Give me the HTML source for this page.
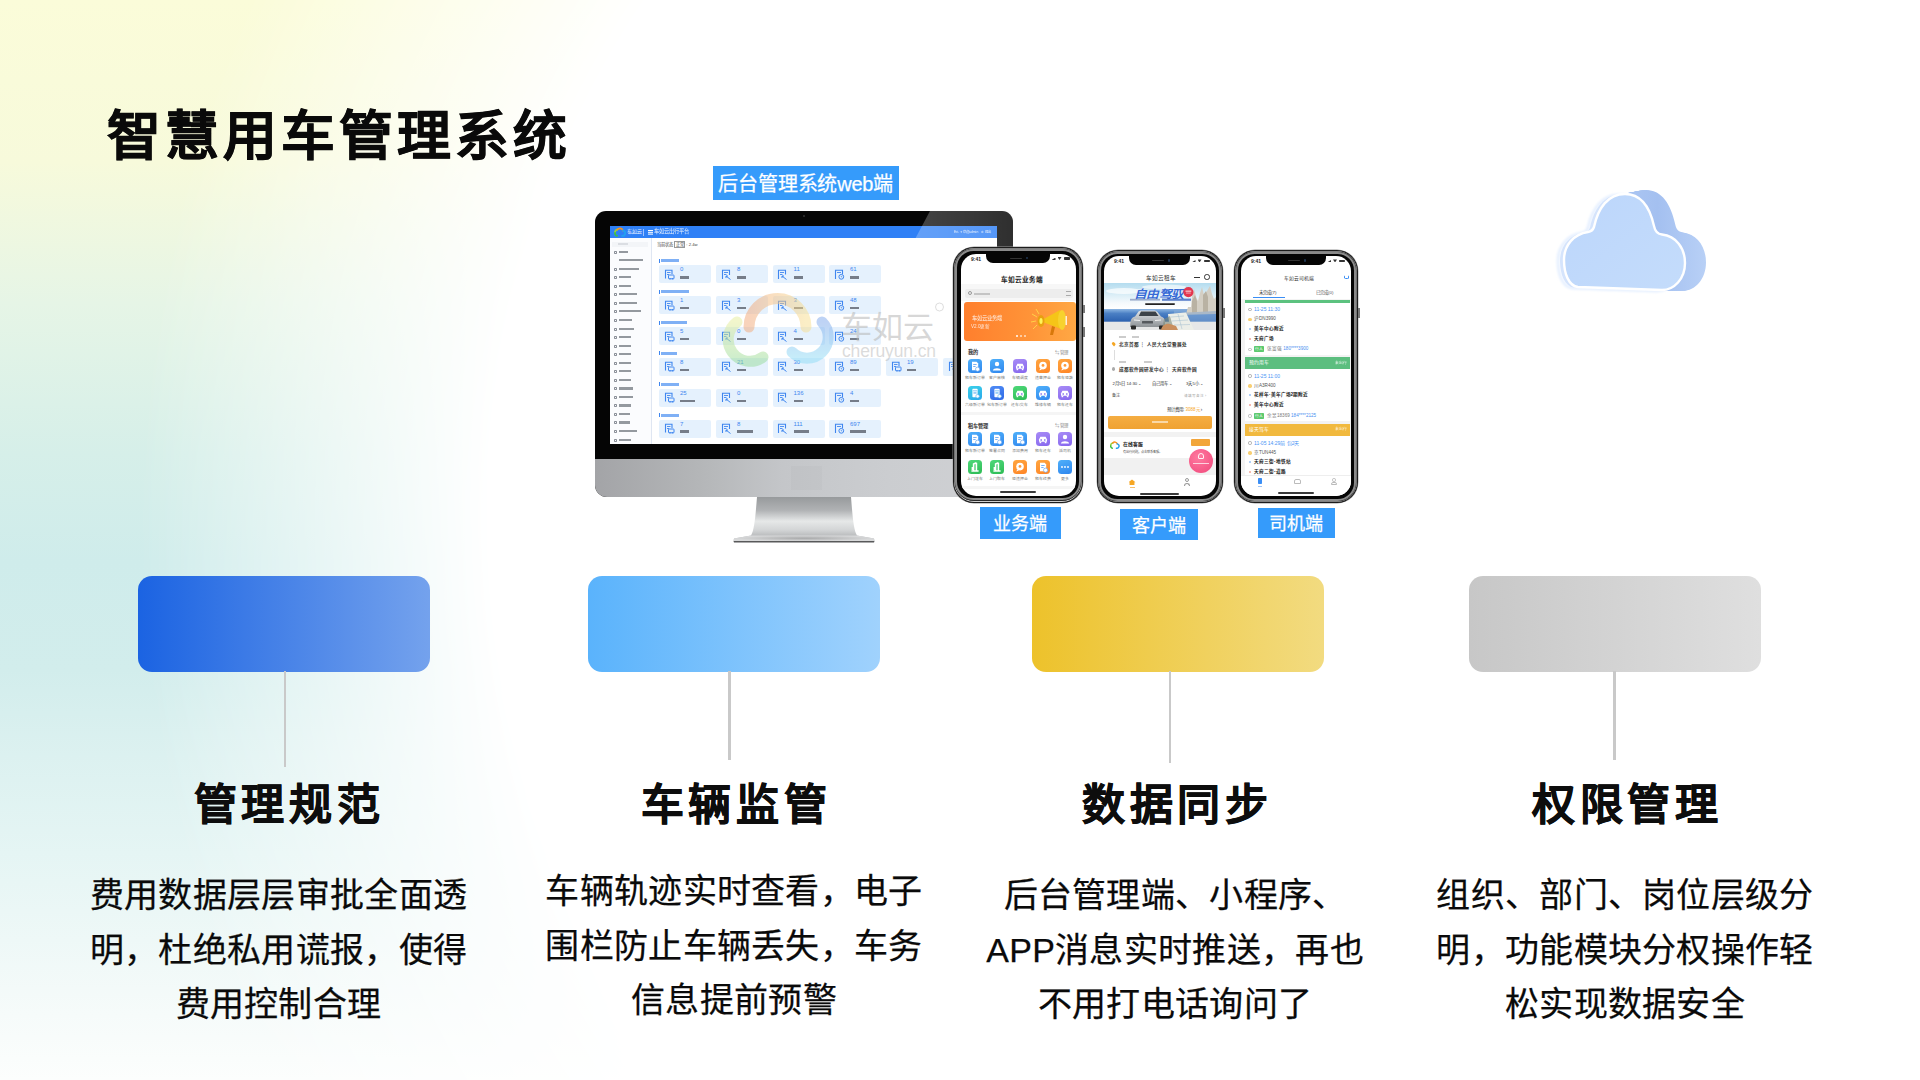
<!DOCTYPE html>
<html lang="zh-CN"><head><meta charset="utf-8"><style>
*{margin:0;padding:0;box-sizing:border-box}
html,body{width:1920px;height:1080px;overflow:hidden}
body{position:relative;font-family:"Liberation Sans",sans-serif;background:#fff;color:#111}
.a{position:absolute}
#bgc{position:absolute;left:0;top:0;width:1920px;height:1080px;
background:linear-gradient(180deg,#fbfcd9 0%,#f7fadb 15%,#e6f5e6 28%,#d6efe9 42%,#cfeceb 52%,#d2edec 62%,#dcf1f0 70%,#e5f5f4 79%,#eef8f7 87%,#f6fbfa 94%,#fcfefd 100%);
-webkit-mask-image:radial-gradient(circle at 1420px 520px, rgba(0,0,0,0) 0px, rgba(0,0,0,0) 930px, rgba(0,0,0,1) 1280px);
mask-image:radial-gradient(circle at 1420px 520px, rgba(0,0,0,0) 0px, rgba(0,0,0,0) 930px, rgba(0,0,0,1) 1280px);}
#title{left:107px;top:98.5px;font-size:53.8px;font-weight:900;letter-spacing:4px;white-space:nowrap;color:#0a0a0a;line-height:1.4;-webkit-text-stroke:.6px #0a0a0a}
.box{position:absolute;top:576px;width:292px;height:95.5px;border-radius:14px}
.vline{position:absolute;top:671px;width:2px;background:#c9c9c9}
.ct{position:absolute;width:400px;text-align:center;font-size:43px;font-weight:700;line-height:60px;top:775px;color:#0d0d0d;white-space:nowrap;letter-spacing:4.6px;-webkit-text-stroke:.6px #0d0d0d}
.cb{position:absolute;width:420px;text-align:center;font-size:34px;line-height:54.5px;top:868px;color:#0a0a0a;white-space:nowrap;letter-spacing:.3px;-webkit-text-stroke:.25px #0a0a0a}
.lab{position:absolute;background:#359bfb;color:#fff;text-align:center;white-space:nowrap;font-weight:500;-webkit-text-stroke:.25px #fff}
/* monitor */
#mon{left:595px;top:211px;width:418px;height:286px;border-radius:11px 11px 12px 12px;overflow:hidden;background:#050505}
#chin{left:0;top:248px;width:418px;height:38px;background:linear-gradient(90deg,#a3a4a7 0%,#b4b6b8 25%,#c4c6c9 45%,#cbcdd0 70%,#d0d1d4 100%)}
#scr{left:15px;top:15px;width:387px;height:218px;background:#fff;overflow:hidden}
#hdr{left:0;top:0;width:387px;height:12px;background:#2f80f6}
#side{left:0;top:12px;width:42px;height:206px;background:#fbfcfe;border-right:1.2px solid #dfe6f2}
.mi{position:absolute;left:3px;height:2.4px;background:#7a7f87;opacity:.8}
.mic{position:absolute;left:3.5px;width:3px;height:3px;border:0.7px solid #8a8f98;border-radius:.8px}
.sl{position:absolute;height:3px;background:#7fb0f5}
.card{position:absolute;width:52px;height:18px;background:#e5f1fd;border-radius:2px}
.card svg{position:absolute;left:4.5px;top:3.5px}
.card b{position:absolute;left:21px;top:1px;font-size:6px;font-weight:400;color:#3f86ef;line-height:6px}
.card u{position:absolute;left:21px;top:10.8px;width:10px;height:2.6px;background:#5a606b;opacity:.8}
#glare{left:0;top:0;width:418px;height:60px;background:linear-gradient(90deg,rgba(255,255,255,.26) 75%,rgba(255,255,255,.17));clip-path:polygon(335px 0,418px 0,418px 60px,303px 60px)}
#stand{left:733px;top:497px;width:142px;height:46px}
/* phones */
.ph{position:absolute;border-radius:21px;background:#1c1c1c;box-shadow:0 0 0 .4px #9a9a9a}
.ph .r1{position:absolute;border-radius:20px;border:.8px solid #d0d0d0;left:.9px;top:.9px;right:.9px;bottom:.9px}
.ph .r2{position:absolute;border-radius:18.5px;border:2.4px solid #8a8a8a;background:#050505;left:2.4px;top:2.4px;right:2.4px;bottom:2.4px;box-shadow:0 0 0 .6px #333}
.ph .sc{position:absolute;background:#fff;border-radius:14px;overflow:hidden}
.notch{position:absolute;top:0;height:9px;background:#050505;border-radius:0 0 7px 7px}
.t9{position:absolute;font-size:5px;font-weight:700;color:#222;top:2px}
.ic{position:absolute;width:14px;height:14px;border-radius:3.5px}
.il{position:absolute;height:2.2px;background:#9a9a9a;opacity:.8}
.pl{position:absolute;height:2.6px;background:#333}
</style></head><body>
<div id="bgc"></div>
<div id="title" class="a">智慧用车管理系统</div>
<div class="lab" style="left:713px;top:166.3px;width:185.5px;height:33.5px;font-size:20px;line-height:36px;letter-spacing:-.2px">后台管理系统web端</div>
<div id="mon" class="a">
<div id="scr" class="a">
<div id="hdr" class="a"><svg class="a" style="left:1.5px;top:.5px" width="14" height="11" viewBox="0 0 14 11"><g fill="none" stroke-width="1.8" stroke-linecap="round"><path d="M3,6 A3,3 0 0 1 5.5,2.5" stroke="#9bd13a"/><path d="M5.5,2.5 A3.2,3.2 0 0 1 11,3.5" stroke="#f7921e"/><path d="M11,3.5 A2.6,2.6 0 0 1 10,8.8" stroke="#21a0f0"/><path d="M3,6 A2.4,2.4 0 0 0 5,8.8" stroke="#3cc04a"/></g></svg><div class="a" style="left:17px;top:1.5px;font-size:5px;line-height:6px;color:#e8f1ff;white-space:nowrap">车如云</div><div class="a" style="left:17.5px;top:7.3px;width:11px;height:1px;background:#bcd6ff;opacity:.7"></div><div class="a" style="left:32.5px;top:2.5px;width:.5px;height:7px;background:#9cc2ff"></div><div class="a" style="left:37.5px;top:4px;width:5px;height:.9px;background:#fff;box-shadow:0 1.8px 0 #fff,0 3.6px 0 #fff"></div><div class="a" style="left:44px;top:2.2px;font-size:5.3px;line-height:7px;color:#fff;white-space:nowrap;opacity:.92">车如云出行平台</div><div class="a" style="left:344px;top:4px;font-size:3.4px;line-height:4px;color:#fff;white-space:nowrap;opacity:.85">Eri. ✦欢迎admin　⚙ 退出</div></div>
<div id="side" class="a"><div class="mi" style="left:2px;top:3.5px;width:36px;height:5px;background:#f1f3f6"></div><div class="mi" style="left:8px;top:4.5px;width:10px;background:#d5d8dd"></div><div class="mic" style="top:12.5px"></div><div class="mi" style="left:9px;top:12.5px;width:9px"></div><div class="mi" style="left:9px;top:21.0px;width:24px"></div><div class="mic" style="top:29.5px"></div><div class="mi" style="left:9px;top:29.5px;width:20px"></div><div class="mic" style="top:38.0px"></div><div class="mi" style="left:9px;top:38.0px;width:12px"></div><div class="mic" style="top:46.5px"></div><div class="mi" style="left:9px;top:46.5px;width:12px"></div><div class="mic" style="top:55.0px"></div><div class="mi" style="left:9px;top:55.0px;width:18px"></div><div class="mic" style="top:63.5px"></div><div class="mi" style="left:9px;top:63.5px;width:18px"></div><div class="mic" style="top:72.1px"></div><div class="mi" style="left:9px;top:72.1px;width:22px"></div><div class="mic" style="top:80.5px"></div><div class="mi" style="left:9px;top:80.5px;width:13px"></div><div class="mic" style="top:89.5px"></div><div class="mi" style="left:9px;top:89.5px;width:15px"></div><div class="mic" style="top:98.1px"></div><div class="mi" style="left:9px;top:98.1px;width:12px"></div><div class="mic" style="top:106.5px"></div><div class="mi" style="left:9px;top:106.5px;width:12px"></div><div class="mic" style="top:115.1px"></div><div class="mi" style="left:9px;top:115.1px;width:12px"></div><div class="mic" style="top:123.5px"></div><div class="mi" style="left:9px;top:123.5px;width:12px"></div><div class="mic" style="top:132.1px"></div><div class="mi" style="left:9px;top:132.1px;width:12px"></div><div class="mic" style="top:140.5px"></div><div class="mi" style="left:9px;top:140.5px;width:12px"></div><div class="mic" style="top:149.2px"></div><div class="mi" style="left:9px;top:149.2px;width:14px"></div><div class="mic" style="top:157.5px"></div><div class="mi" style="left:9px;top:157.5px;width:14px"></div><div class="mic" style="top:166.2px"></div><div class="mi" style="left:9px;top:166.2px;width:12px"></div><div class="mic" style="top:174.5px"></div><div class="mi" style="left:9px;top:174.5px;width:11px"></div><div class="mic" style="top:183.3px"></div><div class="mi" style="left:9px;top:183.3px;width:11px"></div><div class="mic" style="top:191.8px"></div><div class="mi" style="left:9px;top:191.8px;width:18px"></div><div class="mic" style="top:200.5px"></div><div class="mi" style="left:9px;top:200.5px;width:12px"></div></div>
<div class="a" style="left:47px;top:15.8px;font-size:4.2px;line-height:5px;color:#444;white-space:nowrap">当前状态 <span style="border:.4px solid #999;padding:0 .5px">正常</span> : 2.4w</div>
<div class="a" style="left:48.6px;top:32.7px;width:1px;height:4px;background:#3f86ef"></div><div class="sl" style="left:51px;top:33.2px;width:18px"></div><div class="card" style="left:49.0px;top:39.2px"><svg width="11" height="11" viewBox="0 0 11 11"><path d="M1.5,9.5 V1.2 H8 V5" fill="none" stroke="#3f86ef" stroke-width="1.1"/><path d="M3,3.5 H6.5 M3,5.5 H5" stroke="#3f86ef" stroke-width=".9"/><rect x="4.5" y="6" width="5.5" height="3.8" rx=".6" fill="none" stroke="#3f86ef" stroke-width="1"/><circle cx="6" cy="9.8" r=".7" fill="#3f86ef"/><circle cx="8.7" cy="9.8" r=".7" fill="#3f86ef"/></svg><b>0</b><u style="width:9px"></u></div><div class="card" style="left:106.0px;top:39.2px"><svg width="11" height="11" viewBox="0 0 11 11"><path d="M1.5,10 V1.2 H8.5 V6" fill="none" stroke="#3f86ef" stroke-width="1.1"/><path d="M3,3.5 H7 M3,5.5 H5.5" stroke="#3f86ef" stroke-width=".9"/><path d="M5,7 L9.5,10.5 M5,7 V9 M5,7 H7" fill="none" stroke="#3f86ef" stroke-width="1"/></svg><b>8</b><u style="width:9px"></u></div><div class="card" style="left:162.5px;top:39.2px"><svg width="11" height="11" viewBox="0 0 11 11"><path d="M1.5,10 V1.2 H8.5 V5.5" fill="none" stroke="#3f86ef" stroke-width="1.1"/><path d="M3,3.5 H7 M3,5.5 H5.5" stroke="#3f86ef" stroke-width=".9"/><path d="M5,7 L9.5,10.5 M5,7 V9 M5,7 H7" fill="none" stroke="#3f86ef" stroke-width="1"/></svg><b>11</b><u style="width:9px"></u></div><div class="card" style="left:219.0px;top:39.2px"><svg width="11" height="11" viewBox="0 0 11 11"><path d="M1.5,10 V1.2 H8.5 V5" fill="none" stroke="#3f86ef" stroke-width="1.1"/><path d="M3,3.5 H7" stroke="#3f86ef" stroke-width=".9"/><circle cx="7.3" cy="7.8" r="2.4" fill="none" stroke="#3f86ef" stroke-width="1"/><path d="M7.3,6.8 V8 H8.3" fill="none" stroke="#3f86ef" stroke-width=".7"/></svg><b>61</b><u style="width:9px"></u></div><div class="a" style="left:48.6px;top:63.6px;width:1px;height:4px;background:#3f86ef"></div><div class="sl" style="left:51px;top:64.1px;width:28px"></div><div class="card" style="left:49.0px;top:70.1px"><svg width="11" height="11" viewBox="0 0 11 11"><path d="M1.5,9.5 V1.2 H8 V5" fill="none" stroke="#3f86ef" stroke-width="1.1"/><path d="M3,3.5 H6.5 M3,5.5 H5" stroke="#3f86ef" stroke-width=".9"/><rect x="4.5" y="6" width="5.5" height="3.8" rx=".6" fill="none" stroke="#3f86ef" stroke-width="1"/><circle cx="6" cy="9.8" r=".7" fill="#3f86ef"/><circle cx="8.7" cy="9.8" r=".7" fill="#3f86ef"/></svg><b>1</b><u style="width:9px"></u></div><div class="card" style="left:106.0px;top:70.1px"><svg width="11" height="11" viewBox="0 0 11 11"><path d="M1.5,10 V1.2 H8.5 V6" fill="none" stroke="#3f86ef" stroke-width="1.1"/><path d="M3,3.5 H7 M3,5.5 H5.5" stroke="#3f86ef" stroke-width=".9"/><path d="M5,7 L9.5,10.5 M5,7 V9 M5,7 H7" fill="none" stroke="#3f86ef" stroke-width="1"/></svg><b>3</b><u style="width:9px"></u></div><div class="card" style="left:162.5px;top:70.1px"><svg width="11" height="11" viewBox="0 0 11 11"><path d="M1.5,10 V1.2 H8.5 V5.5" fill="none" stroke="#3f86ef" stroke-width="1.1"/><path d="M3,3.5 H7 M3,5.5 H5.5" stroke="#3f86ef" stroke-width=".9"/><path d="M5,7 L9.5,10.5 M5,7 V9 M5,7 H7" fill="none" stroke="#3f86ef" stroke-width="1"/></svg><b>3</b><u style="width:9px"></u></div><div class="card" style="left:219.0px;top:70.1px"><svg width="11" height="11" viewBox="0 0 11 11"><path d="M1.5,10 V1.2 H8.5 V5" fill="none" stroke="#3f86ef" stroke-width="1.1"/><path d="M3,3.5 H7" stroke="#3f86ef" stroke-width=".9"/><circle cx="7.3" cy="7.8" r="2.4" fill="none" stroke="#3f86ef" stroke-width="1"/><path d="M7.3,6.8 V8 H8.3" fill="none" stroke="#3f86ef" stroke-width=".7"/></svg><b>48</b><u style="width:9px"></u></div><div class="a" style="left:48.6px;top:94.5px;width:1px;height:4px;background:#3f86ef"></div><div class="sl" style="left:51px;top:95.0px;width:26px"></div><div class="card" style="left:49.0px;top:101.0px"><svg width="11" height="11" viewBox="0 0 11 11"><path d="M1.5,9.5 V1.2 H8 V5" fill="none" stroke="#3f86ef" stroke-width="1.1"/><path d="M3,3.5 H6.5 M3,5.5 H5" stroke="#3f86ef" stroke-width=".9"/><rect x="4.5" y="6" width="5.5" height="3.8" rx=".6" fill="none" stroke="#3f86ef" stroke-width="1"/><circle cx="6" cy="9.8" r=".7" fill="#3f86ef"/><circle cx="8.7" cy="9.8" r=".7" fill="#3f86ef"/></svg><b>5</b><u style="width:9px"></u></div><div class="card" style="left:106.0px;top:101.0px"><svg width="11" height="11" viewBox="0 0 11 11"><path d="M1.5,10 V1.2 H8.5 V6" fill="none" stroke="#3f86ef" stroke-width="1.1"/><path d="M3,3.5 H7 M3,5.5 H5.5" stroke="#3f86ef" stroke-width=".9"/><path d="M5,7 L9.5,10.5 M5,7 V9 M5,7 H7" fill="none" stroke="#3f86ef" stroke-width="1"/></svg><b>0</b><u style="width:9px"></u></div><div class="card" style="left:162.5px;top:101.0px"><svg width="11" height="11" viewBox="0 0 11 11"><path d="M1.5,10 V1.2 H8.5 V5.5" fill="none" stroke="#3f86ef" stroke-width="1.1"/><path d="M3,3.5 H7 M3,5.5 H5.5" stroke="#3f86ef" stroke-width=".9"/><path d="M5,7 L9.5,10.5 M5,7 V9 M5,7 H7" fill="none" stroke="#3f86ef" stroke-width="1"/></svg><b>4</b><u style="width:9px"></u></div><div class="card" style="left:219.0px;top:101.0px"><svg width="11" height="11" viewBox="0 0 11 11"><path d="M1.5,10 V1.2 H8.5 V5" fill="none" stroke="#3f86ef" stroke-width="1.1"/><path d="M3,3.5 H7" stroke="#3f86ef" stroke-width=".9"/><circle cx="7.3" cy="7.8" r="2.4" fill="none" stroke="#3f86ef" stroke-width="1"/><path d="M7.3,6.8 V8 H8.3" fill="none" stroke="#3f86ef" stroke-width=".7"/></svg><b>24</b><u style="width:9px"></u></div><div class="a" style="left:48.6px;top:125.4px;width:1px;height:4px;background:#3f86ef"></div><div class="sl" style="left:51px;top:125.9px;width:16px"></div><div class="card" style="left:49.0px;top:131.9px"><svg width="11" height="11" viewBox="0 0 11 11"><path d="M1.5,9.5 V1.2 H8 V5" fill="none" stroke="#3f86ef" stroke-width="1.1"/><path d="M3,3.5 H6.5 M3,5.5 H5" stroke="#3f86ef" stroke-width=".9"/><rect x="4.5" y="6" width="5.5" height="3.8" rx=".6" fill="none" stroke="#3f86ef" stroke-width="1"/><circle cx="6" cy="9.8" r=".7" fill="#3f86ef"/><circle cx="8.7" cy="9.8" r=".7" fill="#3f86ef"/></svg><b>8</b><u style="width:9px"></u></div><div class="card" style="left:106.0px;top:131.9px"><svg width="11" height="11" viewBox="0 0 11 11"><path d="M1.5,10 V1.2 H8.5 V6" fill="none" stroke="#3f86ef" stroke-width="1.1"/><path d="M3,3.5 H7 M3,5.5 H5.5" stroke="#3f86ef" stroke-width=".9"/><path d="M5,7 L9.5,10.5 M5,7 V9 M5,7 H7" fill="none" stroke="#3f86ef" stroke-width="1"/></svg><b>21</b><u style="width:9px"></u></div><div class="card" style="left:162.5px;top:131.9px"><svg width="11" height="11" viewBox="0 0 11 11"><path d="M1.5,10 V1.2 H8.5 V5.5" fill="none" stroke="#3f86ef" stroke-width="1.1"/><path d="M3,3.5 H7 M3,5.5 H5.5" stroke="#3f86ef" stroke-width=".9"/><path d="M5,7 L9.5,10.5 M5,7 V9 M5,7 H7" fill="none" stroke="#3f86ef" stroke-width="1"/></svg><b>30</b><u style="width:9px"></u></div><div class="card" style="left:219.0px;top:131.9px"><svg width="11" height="11" viewBox="0 0 11 11"><path d="M1.5,10 V1.2 H8.5 V5" fill="none" stroke="#3f86ef" stroke-width="1.1"/><path d="M3,3.5 H7" stroke="#3f86ef" stroke-width=".9"/><circle cx="7.3" cy="7.8" r="2.4" fill="none" stroke="#3f86ef" stroke-width="1"/><path d="M7.3,6.8 V8 H8.3" fill="none" stroke="#3f86ef" stroke-width=".7"/></svg><b>89</b><u style="width:9px"></u></div><div class="card" style="left:276.0px;top:131.9px"><svg width="11" height="11" viewBox="0 0 11 11"><path d="M1.5,9.5 V1.2 H8 V5" fill="none" stroke="#3f86ef" stroke-width="1.1"/><path d="M3,3.5 H6.5 M3,5.5 H5" stroke="#3f86ef" stroke-width=".9"/><rect x="4.5" y="6" width="5.5" height="3.8" rx=".6" fill="none" stroke="#3f86ef" stroke-width="1"/><circle cx="6" cy="9.8" r=".7" fill="#3f86ef"/><circle cx="8.7" cy="9.8" r=".7" fill="#3f86ef"/></svg><b>19</b><u style="width:9px"></u></div><div class="card" style="left:333.0px;top:131.9px"><svg width="11" height="11" viewBox="0 0 11 11"><path d="M1.5,10 V1.2 H8.5 V6" fill="none" stroke="#3f86ef" stroke-width="1.1"/><path d="M3,3.5 H7 M3,5.5 H5.5" stroke="#3f86ef" stroke-width=".9"/><path d="M5,7 L9.5,10.5 M5,7 V9 M5,7 H7" fill="none" stroke="#3f86ef" stroke-width="1"/></svg><b>6</b><u style="width:9px"></u></div><div class="a" style="left:48.6px;top:156.3px;width:1px;height:4px;background:#3f86ef"></div><div class="sl" style="left:51px;top:156.8px;width:18px"></div><div class="card" style="left:49.0px;top:162.8px"><svg width="11" height="11" viewBox="0 0 11 11"><path d="M1.5,9.5 V1.2 H8 V5" fill="none" stroke="#3f86ef" stroke-width="1.1"/><path d="M3,3.5 H6.5 M3,5.5 H5" stroke="#3f86ef" stroke-width=".9"/><rect x="4.5" y="6" width="5.5" height="3.8" rx=".6" fill="none" stroke="#3f86ef" stroke-width="1"/><circle cx="6" cy="9.8" r=".7" fill="#3f86ef"/><circle cx="8.7" cy="9.8" r=".7" fill="#3f86ef"/></svg><b>25</b><u style="width:15px"></u></div><div class="card" style="left:106.0px;top:162.8px"><svg width="11" height="11" viewBox="0 0 11 11"><path d="M1.5,10 V1.2 H8.5 V6" fill="none" stroke="#3f86ef" stroke-width="1.1"/><path d="M3,3.5 H7 M3,5.5 H5.5" stroke="#3f86ef" stroke-width=".9"/><path d="M5,7 L9.5,10.5 M5,7 V9 M5,7 H7" fill="none" stroke="#3f86ef" stroke-width="1"/></svg><b>0</b><u style="width:9px"></u></div><div class="card" style="left:162.5px;top:162.8px"><svg width="11" height="11" viewBox="0 0 11 11"><path d="M1.5,10 V1.2 H8.5 V5.5" fill="none" stroke="#3f86ef" stroke-width="1.1"/><path d="M3,3.5 H7 M3,5.5 H5.5" stroke="#3f86ef" stroke-width=".9"/><path d="M5,7 L9.5,10.5 M5,7 V9 M5,7 H7" fill="none" stroke="#3f86ef" stroke-width="1"/></svg><b>136</b><u style="width:9px"></u></div><div class="card" style="left:219.0px;top:162.8px"><svg width="11" height="11" viewBox="0 0 11 11"><path d="M1.5,10 V1.2 H8.5 V5" fill="none" stroke="#3f86ef" stroke-width="1.1"/><path d="M3,3.5 H7" stroke="#3f86ef" stroke-width=".9"/><circle cx="7.3" cy="7.8" r="2.4" fill="none" stroke="#3f86ef" stroke-width="1"/><path d="M7.3,6.8 V8 H8.3" fill="none" stroke="#3f86ef" stroke-width=".7"/></svg><b>4</b><u style="width:9px"></u></div><div class="a" style="left:48.6px;top:187.2px;width:1px;height:4px;background:#3f86ef"></div><div class="sl" style="left:51px;top:187.7px;width:18px"></div><div class="card" style="left:49.0px;top:193.7px"><svg width="11" height="11" viewBox="0 0 11 11"><path d="M1.5,9.5 V1.2 H8 V5" fill="none" stroke="#3f86ef" stroke-width="1.1"/><path d="M3,3.5 H6.5 M3,5.5 H5" stroke="#3f86ef" stroke-width=".9"/><rect x="4.5" y="6" width="5.5" height="3.8" rx=".6" fill="none" stroke="#3f86ef" stroke-width="1"/><circle cx="6" cy="9.8" r=".7" fill="#3f86ef"/><circle cx="8.7" cy="9.8" r=".7" fill="#3f86ef"/></svg><b>7</b><u style="width:9px"></u></div><div class="card" style="left:106.0px;top:193.7px"><svg width="11" height="11" viewBox="0 0 11 11"><path d="M1.5,10 V1.2 H8.5 V6" fill="none" stroke="#3f86ef" stroke-width="1.1"/><path d="M3,3.5 H7 M3,5.5 H5.5" stroke="#3f86ef" stroke-width=".9"/><path d="M5,7 L9.5,10.5 M5,7 V9 M5,7 H7" fill="none" stroke="#3f86ef" stroke-width="1"/></svg><b>8</b><u style="width:16px"></u></div><div class="card" style="left:162.5px;top:193.7px"><svg width="11" height="11" viewBox="0 0 11 11"><path d="M1.5,10 V1.2 H8.5 V5.5" fill="none" stroke="#3f86ef" stroke-width="1.1"/><path d="M3,3.5 H7 M3,5.5 H5.5" stroke="#3f86ef" stroke-width=".9"/><path d="M5,7 L9.5,10.5 M5,7 V9 M5,7 H7" fill="none" stroke="#3f86ef" stroke-width="1"/></svg><b>111</b><u style="width:15px"></u></div><div class="card" style="left:219.0px;top:193.7px"><svg width="11" height="11" viewBox="0 0 11 11"><path d="M1.5,10 V1.2 H8.5 V5" fill="none" stroke="#3f86ef" stroke-width="1.1"/><path d="M3,3.5 H7" stroke="#3f86ef" stroke-width=".9"/><circle cx="7.3" cy="7.8" r="2.4" fill="none" stroke="#3f86ef" stroke-width="1"/><path d="M7.3,6.8 V8 H8.3" fill="none" stroke="#3f86ef" stroke-width=".7"/></svg><b>697</b><u style="width:16px"></u></div>
<svg class="a" style="left:0;top:0" width="387" height="218" viewBox="610 226 387 218">
<g fill="none" stroke-linecap="round" opacity=".5">
<path d="M749,327 A28.5,28.5 0 0 1 806,327" stroke="url(#wgo)" stroke-width="11"/>
<path d="M737,322 A18,18 0 0 0 763,357" stroke="url(#wgg)" stroke-width="11"/>
<path d="M822,322 A17.5,17.5 0 0 1 792,352" stroke="url(#wgb)" stroke-width="11"/>
</g>
<defs>
<linearGradient id="wgo" x1="0" x2="1"><stop offset="0" stop-color="#f2a87a"/><stop offset="1" stop-color="#f8df8e"/></linearGradient>
<linearGradient id="wgg" x1="0" x2="0" y1="0" y2="1"><stop offset="0" stop-color="#e6ee9a"/><stop offset="1" stop-color="#98dc9a"/></linearGradient>
<linearGradient id="wgb" x1="0" x2="0" y1="0" y2="1"><stop offset="0" stop-color="#7fa8ec"/><stop offset="1" stop-color="#8fdcf6"/></linearGradient>
</defs>
<text x="841" y="337.5" font-size="31" fill="#b5b5b5" fill-opacity=".55" font-family="Liberation Sans, sans-serif">车如云</text>
<text x="842" y="357" font-size="17.5" fill="#bdbdbd" fill-opacity=".55" font-family="Liberation Sans, sans-serif" textLength="94">cheruyun.cn</text>
<circle cx="939.5" cy="307" r="4" fill="none" stroke="#d0d0d0" stroke-width=".7"/>
</svg>
</div>
<div id="glare" class="a"></div>
<div id="chin" class="a"><div class="a" style="left:196px;top:7px;width:31px;height:24px;background:rgba(0,0,0,.015)"></div></div>
<div class="a" style="left:208px;top:4px;width:2px;height:2px;border-radius:1px;background:#333"></div>
</div>
<svg id="stand" class="a" width="142" height="46" viewBox="733 497 142 46">
<defs><linearGradient id="sg" x1="0" x2="0" y1="0" y2="1">
<stop offset="0" stop-color="#979a9c"/><stop offset=".3" stop-color="#b0b2b4"/><stop offset=".55" stop-color="#e6e8e8"/><stop offset=".75" stop-color="#d3d5d6"/><stop offset=".9" stop-color="#b6b8ba"/><stop offset="1" stop-color="#c4c5c6"/></linearGradient>
<radialGradient id="bg2" cx=".5" cy=".5" r=".5"><stop offset="0" stop-color="#a8a9aa"/><stop offset="1" stop-color="#d8d9da"/></radialGradient></defs>
<path d="M757,497 L851,497 C852.5,515 853.5,530 857,535.5 L874,538.5 L874.5,541 L733.5,541 L734,538.5 L751,535.5 C754.5,530 755.5,515 757,497 Z" fill="url(#sg)"/>
<path d="M751,535.5 L857,535.5 L874,538.5 L874.5,541 L733.5,541 L734,538.5 Z" fill="url(#bg2)"/>
<path d="M733.5,541 L874.5,541 L874,542.5 L734,542.5 Z" fill="#58595a"/>
</svg>
<div class="ph" style="left:953px;top:247px;width:130px;height:255.5px"><div class="r1"></div><div class="r2"></div></div><div class="a" style="left:961px;top:254px;width:114.5px;height:241.5px;background:#fff;border-radius:15px;overflow:hidden"><div class="a" style="left:40.0px;top:20.0px;white-space:nowrap;font-size:6.6px;font-weight:700;color:#222;letter-spacing:-.1px">车如云业务端</div><div class="a" style="left:0.0px;top:30.0px;width:120.0px;height:17.0px;background:#f7f7f7"></div><div class="a" style="left:4.0px;top:35.0px;width:108.0px;height:9.0px;background:#ededed;border-radius:2px"></div><div class="a" style="left:6.5px;top:37.0px;width:4.0px;height:4.0px;border:.8px solid #999;border-radius:50%"></div><div class="a" style="left:13.0px;top:38.5px;width:16.0px;height:2.0px;background:#c4c4c4"></div><div class="a" style="left:105.0px;top:37.0px;width:5.0px;height:5.0px;border-top:.8px solid #aaa;border-bottom:.8px solid #aaa"></div><div class="a" style="left:3.0px;top:48.0px;width:111.5px;height:38.5px;background:linear-gradient(90deg,#ff7f2d,#ff9438 60%,#ffa844);border-radius:3px"></div><div class="a" style="left:10.5px;top:59.5px;white-space:nowrap;font-size:5.3px;color:#fff;opacity:.9">车如云业务端</div><div class="a" style="left:10.0px;top:68.5px;white-space:nowrap;font-size:4.6px;color:#fff;opacity:.8">V2.0更新</div><div class="a" style="left:54.5px;top:81.0px;width:2.0px;height:2.0px;background:#fff;border-radius:50%"></div><div class="a" style="left:58.5px;top:81.0px;width:2.0px;height:2.0px;background:#fff;border-radius:50%;opacity:.7"></div><div class="a" style="left:62.5px;top:81.0px;width:2.0px;height:2.0px;background:#fff;border-radius:50%;opacity:.7"></div><svg class="a" style="left:69px;top:50px" width="44" height="34" viewBox="0 0 44 34"><path d="M10,17 L30,6 L34,26 Z" fill="#f5c518"/><ellipse cx="32" cy="16" rx="4" ry="10" fill="#f7d22e"/><ellipse cx="11" cy="17" rx="3.5" ry="6" fill="#e8a010"/><ellipse cx="11" cy="17" rx="1.6" ry="3" fill="#fff35a"/><path d="M22,22 L20,31 L23,31 L25,23 Z" fill="#d8780a"/><rect x="35.5" y="12" width="1.5" height="9" fill="#fff" opacity=".8"/><g stroke="#ffe04a" stroke-width=".8"><line x1="2" y1="10" x2="7" y2="13"/><line x1="1" y1="18" x2="6" y2="17"/><line x1="3" y1="25" x2="7" y2="21"/><line x1="6" y1="5" x2="9" y2="10"/></g></svg><div class="a" style="left:6.5px;top:94.3px;white-space:nowrap;font-size:5.2px;font-weight:700;color:#333">我的</div><div class="a" style="left:94.0px;top:94.7px;white-space:nowrap;font-size:4.4px;color:#888">⇆ 管理</div><div class="a" style="left:6.5px;top:104.8px;width:14.0px;height:14.0px;background:linear-gradient(160deg,#4fb0fa,#2f86ee);border-radius:3.5px"></div><svg class="a" style="left:6.5px;top:104.8px" width="14" height="14" viewBox="0 0 14 14"><path d="M4,2.8 H8.6 L10.2,4.4 V11.2 H4 Z" fill="#fff"/><rect x="5.2" y="5" width="3.4" height=".9" fill="#6aa8f2"/><rect x="5.2" y="7" width="2.4" height=".9" fill="#6aa8f2"/><circle cx="9.6" cy="10.2" r="2.1" fill="#fff" stroke="#6aa8f2" stroke-width=".7"/></svg><div class="a" style="left:0.5px;top:121.0px;width:26px;text-align:center;font-size:3.9px;line-height:5px;color:#7a7a7a;white-space:nowrap">租车新订单</div><div class="a" style="left:29.0px;top:104.8px;width:14.0px;height:14.0px;background:linear-gradient(160deg,#4fb0fa,#2f86ee);border-radius:3.5px"></div><svg class="a" style="left:29.0px;top:104.8px" width="14" height="14" viewBox="0 0 14 14"><circle cx="7" cy="5" r="2.2" fill="#fff"/><path d="M2.8,11.4 C3.4,8.4 10.6,8.4 11.2,11.4 Z" fill="#fff"/></svg><div class="a" style="left:23.0px;top:121.0px;width:26px;text-align:center;font-size:3.9px;line-height:5px;color:#7a7a7a;white-space:nowrap">客户审核</div><div class="a" style="left:51.9px;top:104.8px;width:14.0px;height:14.0px;background:linear-gradient(160deg,#a88cf6,#8566ee);border-radius:3.5px"></div><svg class="a" style="left:51.9px;top:104.8px" width="14" height="14" viewBox="0 0 14 14"><path d="M3,9.8 V7.4 L4.4,4.8 H9.6 L11,7.4 V9.8 Z" fill="#fff"/><circle cx="5.2" cy="8" r=".9" fill="#9a8af0"/><circle cx="8.8" cy="8" r=".9" fill="#9a8af0"/><rect x="3.6" y="9.8" width="1.6" height="1.4" fill="#fff"/><rect x="8.8" y="9.8" width="1.6" height="1.4" fill="#fff"/></svg><div class="a" style="left:45.9px;top:121.0px;width:26px;text-align:center;font-size:3.9px;line-height:5px;color:#7a7a7a;white-space:nowrap">车辆调度</div><div class="a" style="left:74.6px;top:104.8px;width:14.0px;height:14.0px;background:linear-gradient(160deg,#ffa640,#ff8526);border-radius:3.5px"></div><svg class="a" style="left:74.6px;top:104.8px" width="14" height="14" viewBox="0 0 14 14"><circle cx="7" cy="6.6" r="3.8" fill="#fff"/><path d="M4.2,9.2 L3.4,11.4 L6,10.2 Z" fill="#fff"/><circle cx="7" cy="6.4" r="1.4" fill="#ff9a3a"/></svg><div class="a" style="left:68.6px;top:121.0px;width:26px;text-align:center;font-size:3.9px;line-height:5px;color:#7a7a7a;white-space:nowrap">违章押金</div><div class="a" style="left:97.0px;top:104.8px;width:14.0px;height:14.0px;background:linear-gradient(160deg,#ffa640,#ff8526);border-radius:3.5px"></div><svg class="a" style="left:97.0px;top:104.8px" width="14" height="14" viewBox="0 0 14 14"><circle cx="7" cy="6.6" r="3.8" fill="#fff"/><path d="M4.2,9.2 L3.4,11.4 L6,10.2 Z" fill="#fff"/><circle cx="7" cy="6.4" r="1.4" fill="#ff9a3a"/></svg><div class="a" style="left:91.0px;top:121.0px;width:26px;text-align:center;font-size:3.9px;line-height:5px;color:#7a7a7a;white-space:nowrap">租车退款</div><div class="a" style="left:6.5px;top:132.2px;width:14.0px;height:14.0px;background:linear-gradient(160deg,#3ad0ea,#2aa8ea);border-radius:3.5px"></div><svg class="a" style="left:6.5px;top:132.2px" width="14" height="14" viewBox="0 0 14 14"><rect x="4.4" y="2.8" width="5.2" height="8.4" rx=".6" fill="#fff"/><rect x="5.4" y="4.2" width="1.2" height="1.2" fill="#5aaef2"/><rect x="7.4" y="4.2" width="1.2" height="1.2" fill="#5aaef2"/><rect x="5.4" y="6.4" width="3.2" height="1.1" fill="#5aaef2"/><circle cx="9.6" cy="10.2" r="1.8" fill="#fff" stroke="#5aaef2" stroke-width=".6"/></svg><div class="a" style="left:0.5px;top:148.4px;width:26px;text-align:center;font-size:3.9px;line-height:5px;color:#7a7a7a;white-space:nowrap">六级新订单</div><div class="a" style="left:29.0px;top:132.2px;width:14.0px;height:14.0px;background:linear-gradient(160deg,#4f8cf5,#2f68e6);border-radius:3.5px"></div><svg class="a" style="left:29.0px;top:132.2px" width="14" height="14" viewBox="0 0 14 14"><rect x="4.4" y="2.8" width="5.2" height="8.4" rx=".6" fill="#fff"/><rect x="5.4" y="4.2" width="1.2" height="1.2" fill="#5aaef2"/><rect x="7.4" y="4.2" width="1.2" height="1.2" fill="#5aaef2"/><rect x="5.4" y="6.4" width="3.2" height="1.1" fill="#5aaef2"/><circle cx="9.6" cy="10.2" r="1.8" fill="#fff" stroke="#5aaef2" stroke-width=".6"/></svg><div class="a" style="left:23.0px;top:148.4px;width:26px;text-align:center;font-size:3.9px;line-height:5px;color:#7a7a7a;white-space:nowrap">包车新订单</div><div class="a" style="left:51.9px;top:132.2px;width:14.0px;height:14.0px;background:linear-gradient(160deg,#4ed879,#2dbb55);border-radius:3.5px"></div><svg class="a" style="left:51.9px;top:132.2px" width="14" height="14" viewBox="0 0 14 14"><path d="M3,9.8 V7.4 L4.4,4.8 H9.6 L11,7.4 V9.8 Z" fill="#fff"/><circle cx="5.2" cy="8" r=".9" fill="#9a8af0"/><circle cx="8.8" cy="8" r=".9" fill="#9a8af0"/><rect x="3.6" y="9.8" width="1.6" height="1.4" fill="#fff"/><rect x="8.8" y="9.8" width="1.6" height="1.4" fill="#fff"/></svg><div class="a" style="left:45.9px;top:148.4px;width:26px;text-align:center;font-size:3.9px;line-height:5px;color:#7a7a7a;white-space:nowrap">还车/交车</div><div class="a" style="left:74.6px;top:132.2px;width:14.0px;height:14.0px;background:linear-gradient(160deg,#4fb0fa,#2f86ee);border-radius:3.5px"></div><svg class="a" style="left:74.6px;top:132.2px" width="14" height="14" viewBox="0 0 14 14"><path d="M3,9.8 V7.4 L4.4,4.8 H9.6 L11,7.4 V9.8 Z" fill="#fff"/><circle cx="5.2" cy="8" r=".9" fill="#9a8af0"/><circle cx="8.8" cy="8" r=".9" fill="#9a8af0"/><rect x="3.6" y="9.8" width="1.6" height="1.4" fill="#fff"/><rect x="8.8" y="9.8" width="1.6" height="1.4" fill="#fff"/></svg><div class="a" style="left:68.6px;top:148.4px;width:26px;text-align:center;font-size:3.9px;line-height:5px;color:#7a7a7a;white-space:nowrap">维修车辆</div><div class="a" style="left:97.0px;top:132.2px;width:14.0px;height:14.0px;background:linear-gradient(160deg,#a88cf6,#8566ee);border-radius:3.5px"></div><svg class="a" style="left:97.0px;top:132.2px" width="14" height="14" viewBox="0 0 14 14"><path d="M3,9.8 V7.4 L4.4,4.8 H9.6 L11,7.4 V9.8 Z" fill="#fff"/><circle cx="5.2" cy="8" r=".9" fill="#9a8af0"/><circle cx="8.8" cy="8" r=".9" fill="#9a8af0"/><rect x="3.6" y="9.8" width="1.6" height="1.4" fill="#fff"/><rect x="8.8" y="9.8" width="1.6" height="1.4" fill="#fff"/></svg><div class="a" style="left:91.0px;top:148.4px;width:26px;text-align:center;font-size:3.9px;line-height:5px;color:#7a7a7a;white-space:nowrap">租车还车</div><div class="a" style="left:6.5px;top:178.0px;width:14.0px;height:14.0px;background:linear-gradient(160deg,#4fb0fa,#2f86ee);border-radius:3.5px"></div><svg class="a" style="left:6.5px;top:178.0px" width="14" height="14" viewBox="0 0 14 14"><path d="M4,2.8 H8.6 L10.2,4.4 V11.2 H4 Z" fill="#fff"/><rect x="5.2" y="5" width="3.4" height=".9" fill="#6aa8f2"/><rect x="5.2" y="7" width="2.4" height=".9" fill="#6aa8f2"/><circle cx="9.6" cy="10.2" r="2.1" fill="#fff" stroke="#6aa8f2" stroke-width=".7"/></svg><div class="a" style="left:0.5px;top:194.2px;width:26px;text-align:center;font-size:3.9px;line-height:5px;color:#7a7a7a;white-space:nowrap">租车新订单</div><div class="a" style="left:29.0px;top:178.0px;width:14.0px;height:14.0px;background:linear-gradient(160deg,#4fb0fa,#2f86ee);border-radius:3.5px"></div><svg class="a" style="left:29.0px;top:178.0px" width="14" height="14" viewBox="0 0 14 14"><path d="M4,2.8 H8.6 L10.2,4.4 V11.2 H4 Z" fill="#fff"/><rect x="5.2" y="5" width="3.4" height=".9" fill="#6aa8f2"/><rect x="5.2" y="7" width="2.4" height=".9" fill="#6aa8f2"/><circle cx="9.6" cy="10.2" r="2.1" fill="#fff" stroke="#6aa8f2" stroke-width=".7"/></svg><div class="a" style="left:23.0px;top:194.2px;width:26px;text-align:center;font-size:3.9px;line-height:5px;color:#7a7a7a;white-space:nowrap">签署合同</div><div class="a" style="left:51.9px;top:178.0px;width:14.0px;height:14.0px;background:linear-gradient(160deg,#4fb0fa,#2f86ee);border-radius:3.5px"></div><svg class="a" style="left:51.9px;top:178.0px" width="14" height="14" viewBox="0 0 14 14"><path d="M4,2.8 H8.6 L10.2,4.4 V11.2 H4 Z" fill="#fff"/><rect x="5.2" y="5" width="3.4" height=".9" fill="#6aa8f2"/><rect x="5.2" y="7" width="2.4" height=".9" fill="#6aa8f2"/><circle cx="9.6" cy="10.2" r="2.1" fill="#fff" stroke="#6aa8f2" stroke-width=".7"/></svg><div class="a" style="left:45.9px;top:194.2px;width:26px;text-align:center;font-size:3.9px;line-height:5px;color:#7a7a7a;white-space:nowrap">添加费用</div><div class="a" style="left:74.6px;top:178.0px;width:14.0px;height:14.0px;background:linear-gradient(160deg,#a88cf6,#8566ee);border-radius:3.5px"></div><svg class="a" style="left:74.6px;top:178.0px" width="14" height="14" viewBox="0 0 14 14"><path d="M3,9.8 V7.4 L4.4,4.8 H9.6 L11,7.4 V9.8 Z" fill="#fff"/><circle cx="5.2" cy="8" r=".9" fill="#9a8af0"/><circle cx="8.8" cy="8" r=".9" fill="#9a8af0"/><rect x="3.6" y="9.8" width="1.6" height="1.4" fill="#fff"/><rect x="8.8" y="9.8" width="1.6" height="1.4" fill="#fff"/></svg><div class="a" style="left:68.6px;top:194.2px;width:26px;text-align:center;font-size:3.9px;line-height:5px;color:#7a7a7a;white-space:nowrap">租车还车</div><div class="a" style="left:97.0px;top:178.0px;width:14.0px;height:14.0px;background:linear-gradient(160deg,#a88cf6,#8566ee);border-radius:3.5px"></div><svg class="a" style="left:97.0px;top:178.0px" width="14" height="14" viewBox="0 0 14 14"><circle cx="7" cy="5" r="2.2" fill="#fff"/><path d="M2.8,11.4 C3.4,8.4 10.6,8.4 11.2,11.4 Z" fill="#fff"/></svg><div class="a" style="left:91.0px;top:194.2px;width:26px;text-align:center;font-size:3.9px;line-height:5px;color:#7a7a7a;white-space:nowrap">派司机</div><div class="a" style="left:6.5px;top:205.8px;width:14.0px;height:14.0px;background:linear-gradient(160deg,#4ed879,#2dbb55);border-radius:3.5px"></div><svg class="a" style="left:6.5px;top:205.8px" width="14" height="14" viewBox="0 0 14 14"><path d="M3.4,11 H10.6 M8.4,2.8 V11 M8.4,2.8 L5.6,4 V10.2" stroke="#fff" stroke-width="1.6" fill="none"/><rect x="3.6" y="7" width="2" height="3" fill="#fff"/></svg><div class="a" style="left:0.5px;top:221.9px;width:26px;text-align:center;font-size:3.9px;line-height:5px;color:#7a7a7a;white-space:nowrap">上门送车</div><div class="a" style="left:29.0px;top:205.8px;width:14.0px;height:14.0px;background:linear-gradient(160deg,#4ed879,#2dbb55);border-radius:3.5px"></div><svg class="a" style="left:29.0px;top:205.8px" width="14" height="14" viewBox="0 0 14 14"><path d="M3.4,11 H10.6 M8.4,2.8 V11 M8.4,2.8 L5.6,4 V10.2" stroke="#fff" stroke-width="1.6" fill="none"/><rect x="3.6" y="7" width="2" height="3" fill="#fff"/></svg><div class="a" style="left:23.0px;top:221.9px;width:26px;text-align:center;font-size:3.9px;line-height:5px;color:#7a7a7a;white-space:nowrap">上门取车</div><div class="a" style="left:51.9px;top:205.8px;width:14.0px;height:14.0px;background:linear-gradient(160deg,#ffa640,#ff8526);border-radius:3.5px"></div><svg class="a" style="left:51.9px;top:205.8px" width="14" height="14" viewBox="0 0 14 14"><circle cx="7" cy="6.6" r="3.8" fill="#fff"/><path d="M4.2,9.2 L3.4,11.4 L6,10.2 Z" fill="#fff"/><circle cx="7" cy="6.4" r="1.4" fill="#ff9a3a"/></svg><div class="a" style="left:45.9px;top:221.9px;width:26px;text-align:center;font-size:3.9px;line-height:5px;color:#7a7a7a;white-space:nowrap">退违押金</div><div class="a" style="left:74.6px;top:205.8px;width:14.0px;height:14.0px;background:linear-gradient(160deg,#ffa640,#ff8526);border-radius:3.5px"></div><svg class="a" style="left:74.6px;top:205.8px" width="14" height="14" viewBox="0 0 14 14"><path d="M4,2.8 H8.6 L10.2,4.4 V11.2 H4 Z" fill="#fff"/><rect x="5.2" y="5" width="3.4" height=".9" fill="#6aa8f2"/><rect x="5.2" y="7" width="2.4" height=".9" fill="#6aa8f2"/><circle cx="9.6" cy="10.2" r="2.1" fill="#fff" stroke="#6aa8f2" stroke-width=".7"/></svg><div class="a" style="left:68.6px;top:221.9px;width:26px;text-align:center;font-size:3.9px;line-height:5px;color:#7a7a7a;white-space:nowrap">租车续费</div><div class="a" style="left:97.0px;top:205.8px;width:14.0px;height:14.0px;background:linear-gradient(160deg,#4fb0fa,#2f86ee);border-radius:3.5px"></div><svg class="a" style="left:97.0px;top:205.8px" width="14" height="14" viewBox="0 0 14 14"><circle cx="4" cy="7" r=".9" fill="#fff"/><circle cx="7" cy="7" r=".9" fill="#fff"/><circle cx="10" cy="7" r=".9" fill="#fff"/></svg><div class="a" style="left:91.0px;top:221.9px;width:26px;text-align:center;font-size:3.9px;line-height:5px;color:#7a7a7a;white-space:nowrap">更多</div><div class="a" style="left:0.0px;top:158.0px;width:120.0px;height:3.0px;background:#f5f5f5"></div><div class="a" style="left:6.5px;top:167.8px;white-space:nowrap;font-size:5.2px;font-weight:700;color:#333">租车管理</div><div class="a" style="left:94.0px;top:168.2px;white-space:nowrap;font-size:4.4px;color:#888">⇆ 管理</div><div class="a" style="left:0.0px;top:232.0px;width:120.0px;height:3.0px;background:#f5f5f5"></div><div class="a" style="left:39.0px;top:237.0px;width:36.0px;height:2.0px;background:#3a3a3a;border-radius:1px"></div><div class="notch" style="left:25px;width:64px"></div><div class="a" style="left:49.0px;top:3.5px;width:12px;height:1.2px;background:#333;border-radius:1px"></div><div class="a" style="left:65.0px;top:3px;width:2.4px;height:2.4px;background:#1f3550;border-radius:50%"></div><div class="t9" style="left:10px">9:41</div><div class="a" style="left:90.5px;top:3.5px;width:4px;height:2.5px;background:#333;clip-path:polygon(0 100%,100% 0,100% 100%)"></div><div class="a" style="left:96.5px;top:3px;width:4px;height:3px;background:#333;clip-path:polygon(0 0,100% 0,50% 100%)"></div><div class="a" style="left:102.5px;top:3.3px;width:6px;height:2.6px;background:#333;border-radius:.8px"></div></div>
<div class="ph" style="left:1097px;top:250px;width:126px;height:253px"><div class="r1"></div><div class="r2"></div></div><div class="a" style="left:1104px;top:256.4px;width:111.5px;height:239.6px;background:#fff;border-radius:15px;overflow:hidden"><div class="a" style="left:42.0px;top:17.6px;white-space:nowrap;font-size:5.6px;color:#333">车如云租车</div><div class="a" style="left:90.0px;top:20.6px;width:6.0px;height:1.2px;background:#333"></div><div class="a" style="left:100.0px;top:18.1px;width:5.5px;height:5.5px;border:1px solid #333;border-radius:50%"></div><svg class="a" style="left:0px;top:26.600000000000023px" width="112" height="47" viewBox="0 0 112 47"><defs><linearGradient id="sky" x1="0" x2="0" y1="0" y2="1"><stop offset="0" stop-color="#b4dcef"/><stop offset=".22" stop-color="#d6ecf6"/><stop offset=".42" stop-color="#f4f9fc"/><stop offset=".55" stop-color="#ffffff"/></linearGradient><linearGradient id="sea" x1="0" x2="0" y1="0" y2="1"><stop offset="0" stop-color="#8db6e2"/><stop offset=".35" stop-color="#4a7fc4"/><stop offset="1" stop-color="#2a5fae"/></linearGradient><linearGradient id="car" x1="0" x2="0" y1="0" y2="1"><stop offset="0" stop-color="#e4e6e8"/><stop offset=".5" stop-color="#b8bcc0"/><stop offset="1" stop-color="#8d9296"/></linearGradient></defs><rect width="112" height="47" fill="url(#sky)"/><ellipse cx="20" cy="8" rx="18" ry="3" fill="#fff" opacity=".7"/><ellipse cx="60" cy="4" rx="22" ry="2.5" fill="#fff" opacity=".6"/><rect y="26" width="112" height="13" fill="url(#sea)"/><rect x="70" y="26" width="42" height="13" fill="#86acd8" opacity=".6"/><rect y="38.7" width="112" height="8.3" fill="#e6e7e8"/><path d="M82,31 L84,24 L87,24 L88,14 L90,6 L92,14 L94,18 L96,10 L98,4 L100,12 L103,8 L106,3 L108,11 L110,16 L112,14 L112,31 Z" fill="#d4cfc4"/><path d="M88,31 L88,18 L91,12 L93,18 L93,31 Z M99,31 L99,12 L102,8 L104,14 L104,31 Z" fill="#b9b2a3"/><path d="M74,30 L112,28 L112,31 L74,32 Z" fill="#a9b8c8"/><text x="29.5" y="14.6" font-size="11.2" font-style="italic" font-weight="700" fill="#3569d6" stroke="#ffffff" stroke-width=".5" paint-order="stroke" font-family="Liberation Sans, sans-serif" textLength="50" lengthAdjust="spacingAndGlyphs">自由驾驭</text><circle cx="84.4" cy="9.1" r="5.1" fill="#e3374f"/><rect x="81.5" y="7.6" width="5.8" height="1.1" fill="#fff" opacity=".8"/><rect x="82" y="9.6" width="4.8" height=".9" fill="#fff" opacity=".6"/><rect x="26" y="15.8" width="30" height="1.8" fill="#7a8fb8" opacity=".7"/><rect x="58" y="15.6" width="29" height="2.2" fill="#3a64c0" opacity=".8"/><rect x="41" y="20.2" width="30" height="1.7" rx=".8" fill="#222"/><path d="M26,44 L26.5,38.5 C27,35.5 29,34 31,33.5 L34.5,28.6 C35,28 36,27.4 37.5,27.4 L50,27.4 C51.5,27.4 52.5,28 53.5,29 L57,33.5 C59.5,34.2 61,36 61,38.5 L61,44 Z" fill="url(#car)"/><path d="M34.8,33 L37,28.6 L51.5,28.6 L54.5,33 Z" fill="#3c4248"/><path d="M30,37 L36,37.5 M51,37.5 L57,37" stroke="#f2f2f2" stroke-width="1.2"/><rect x="38" y="38" width="11" height="2.6" rx=".6" fill="#55595e"/><rect x="27" y="42.5" width="5" height="4" rx="1" fill="#2a2a2a"/><rect x="55" y="42.5" width="5" height="4" rx="1" fill="#2a2a2a"/><path d="M64,31 L82,29.5 L90,47 L66,47 Z" fill="#eceee8"/><path d="M67,34 L80,33 M68,38 L84,37 M70,42 L86,41.5 M74,31 L78,46" stroke="#8fb0c8" stroke-width=".5" opacity=".8"/><path d="M60,36 L66,33 L70,47 L58,47 Z" fill="#7d8a7a" opacity=".6"/><path d="M57,47 C58,42 62,40 66,41 L72,43 L74,47 Z" fill="#c98f5e"/></svg><div class="a" style="left:15.0px;top:80.1px;width:7.0px;height:1.5px;background:#ccc"></div><div class="a" style="left:28.0px;top:80.1px;width:7.0px;height:1.5px;background:#ccc"></div><div class="a" style="left:8.0px;top:86.1px;width:3.0px;height:3.5px;background:#f5a623;border-radius:50% 50% 50% 0;transform:rotate(-45deg)"></div><div class="a" style="left:15.0px;top:84.2px;white-space:nowrap;font-size:4.6px;color:#333;font-weight:700">北京首都 ┆ 人民大会堂暨展处</div><div class="a" style="left:9.5px;top:93.6px;width:0.7px;height:10.0px;background:#ddd"></div><div class="a" style="left:15.0px;top:105.1px;width:7.0px;height:1.5px;background:#ccc"></div><div class="a" style="left:40.0px;top:105.1px;width:8.0px;height:1.5px;background:#ccc"></div><div class="a" style="left:8.0px;top:111.1px;width:3.0px;height:3.5px;background:#aaa;border-radius:50%"></div><div class="a" style="left:15.0px;top:109.2px;white-space:nowrap;font-size:4.6px;color:#333;font-weight:700">成都软件园研发中心 ┆ 天府软件园</div><div class="a" style="left:8.5px;top:123.2px;white-space:nowrap;font-size:4.3px;color:#333">2月5日 14:30 ⌄</div><div class="a" style="left:48.0px;top:123.2px;white-space:nowrap;font-size:4.3px;color:#333">自己用车 ⌄</div><div class="a" style="left:82.0px;top:123.2px;white-space:nowrap;font-size:4.3px;color:#333">3天5小 ⌄</div><div class="a" style="left:8.0px;top:136.1px;white-space:nowrap;font-size:4px;color:#444">备注</div><div class="a" style="left:80.0px;top:136.6px;white-space:nowrap;font-size:3.6px;color:#aaa">请填写备注 ›</div><div class="a" style="left:63.0px;top:149.2px;white-space:nowrap;font-size:4.5px;color:#333">预计费用: <span style="color:#f5a623">3088元</span> ›</div><div class="a" style="left:3.5px;top:159.6px;width:104.5px;height:13.0px;background:linear-gradient(180deg,#f5ad42,#efa232);border-radius:2px"></div><div class="a" style="left:48.0px;top:165.1px;width:16.0px;height:1.7px;background:#fff;opacity:.55"></div><div class="a" style="left:0.0px;top:175.6px;width:112.0px;height:5.0px;background:#f2f2f2"></div><svg class="a" style="left:4px;top:184.60000000000002px" width="12" height="9" viewBox="0 0 14 11"><g fill="none" stroke-width="1.8" stroke-linecap="round"><path d="M3,6 A3,3 0 0 1 5.5,2.5" stroke="#9bd13a"/><path d="M5.5,2.5 A3.2,3.2 0 0 1 11,3.5" stroke="#f7921e"/><path d="M11,3.5 A2.6,2.6 0 0 1 10,8.8" stroke="#21a0f0"/><path d="M3,6 A2.4,2.4 0 0 0 5,8.8" stroke="#3cc04a"/></g></svg><div class="a" style="left:19.0px;top:183.6px;white-space:nowrap;font-size:4.8px;font-weight:700;color:#222">在线客服</div><div class="a" style="left:19.0px;top:192.2px;white-space:nowrap;font-size:3.2px;color:#555">有出行问题，点击联系客服。</div><div class="a" style="left:87.0px;top:183.1px;width:19.0px;height:6.5px;background:#f2a53a;border-radius:1px"></div><div class="a" style="left:0.0px;top:201.6px;width:112.0px;height:17.0px;background:#f1f1f1"></div><div class="a" style="left:85.0px;top:193.1px;width:24.0px;height:24.0px;background:radial-gradient(circle at 40% 35%,#ff7ba0,#f0467a);border-radius:50%"></div><div class="a" style="left:94.0px;top:197.1px;width:6.0px;height:6.0px;border:1px solid #fff;border-radius:50% 50% 1px 1px;opacity:.9"></div><div class="a" style="left:89.0px;top:206.6px;width:16.0px;height:1.5px;background:#fff;opacity:.7"></div><div class="a" style="left:24.5px;top:223.1px;width:7.0px;height:6.0px;background:#f6a623;clip-path:polygon(50% 0,100% 45%,85% 45%,85% 100%,15% 100%,15% 45%,0 45%)"></div><div class="a" style="left:25.5px;top:230.6px;width:5.0px;height:1.2px;background:#f6c070"></div><div class="a" style="left:81.0px;top:222.1px;width:4.0px;height:4.0px;border:.8px solid #999;border-radius:50%"></div><div class="a" style="left:80.0px;top:226.6px;width:6.0px;height:3.0px;border:.8px solid #999;border-radius:3px 3px 0 0;border-bottom:none"></div><div class="a" style="left:36.0px;top:236.6px;width:39.0px;height:2.0px;background:#3a3a3a;border-radius:1px"></div><div class="notch" style="left:25.299999999999955px;width:60.700000000000045px"></div><div class="a" style="left:47.65000000000009px;top:3.5px;width:12px;height:1.2px;background:#333;border-radius:1px"></div><div class="a" style="left:63.65000000000009px;top:3px;width:2.4px;height:2.4px;background:#1f3550;border-radius:50%"></div><div class="t9" style="left:10px">9:41</div><div class="a" style="left:87.5px;top:3.5px;width:4px;height:2.5px;background:#333;clip-path:polygon(0 100%,100% 0,100% 100%)"></div><div class="a" style="left:93.5px;top:3px;width:4px;height:3px;background:#333;clip-path:polygon(0 0,100% 0,50% 100%)"></div><div class="a" style="left:99.5px;top:3.3px;width:6px;height:2.6px;background:#333;border-radius:.8px"></div></div>
<div class="ph" style="left:1234px;top:250px;width:124px;height:253px"><div class="r1"></div><div class="r2"></div></div><div class="a" style="left:1241px;top:256.4px;width:110px;height:239.6px;background:#fff;border-radius:15px;overflow:hidden"><div class="a" style="left:42.5px;top:18.1px;white-space:nowrap;font-size:4.8px;color:#333">车如云司机端</div><div class="a" style="left:103.0px;top:19.1px;width:4.5px;height:3.5px;border:1px solid #3a8ef5;border-radius:50%;border-top-color:transparent"></div><div class="a" style="left:18.0px;top:33.1px;white-space:nowrap;font-size:4.4px;color:#333">未完成(7)</div><div class="a" style="left:75.0px;top:33.1px;white-space:nowrap;font-size:4.4px;color:#555">已完成(0)</div><div class="a" style="left:11.5px;top:40.9px;width:32.5px;height:1.2px;background:#3a8ef5"></div><div class="a" style="left:0.0px;top:42.6px;width:110.0px;height:177.0px;background:#f3f3f3"></div><div class="a" style="left:3.5px;top:43.4px;width:105.5px;height:3.2px;background:#5cc27f"></div><div class="a" style="left:3.5px;top:46.6px;width:105.5px;height:52.5px;background:#fff"></div><div class="a" style="left:3.5px;top:100.6px;width:105.5px;height:12.5px;background:#5cbe7f"></div><div class="a" style="left:8.0px;top:103.8px;white-space:nowrap;font-size:4.8px;line-height:6px;color:#fff">预约用车</div><div class="a" style="left:94.0px;top:104.2px;white-space:nowrap;font-size:3.8px;line-height:5px;color:#fff;opacity:.85">未出行</div><div class="a" style="left:3.5px;top:113.1px;width:105.5px;height:52.0px;background:#fff"></div><div class="a" style="left:3.5px;top:167.3px;width:105.5px;height:12.3px;background:#f1b93e"></div><div class="a" style="left:8.0px;top:170.5px;white-space:nowrap;font-size:4.8px;line-height:6px;color:#fff">接天驾车</div><div class="a" style="left:94.0px;top:170.9px;white-space:nowrap;font-size:3.8px;line-height:5px;color:#fff;opacity:.85">未出行</div><div class="a" style="left:3.5px;top:179.6px;width:105.5px;height:40.0px;background:#fff"></div><div class="a" style="left:7.3px;top:51.4px;width:3.4px;height:3.4px;border:.7px solid #aaa;border-radius:50%"></div><div class="a" style="left:13.0px;top:50.1px;white-space:nowrap;font-size:5px;line-height:6px;color:#4a94f5">11-25 11:30</div><div class="a" style="left:7.3px;top:61.4px;width:3.4px;height:3.4px;background:#f7c75a;border-radius:50%;opacity:.85"></div><div class="a" style="left:13.0px;top:60.1px;white-space:nowrap;font-size:4.6px;line-height:6px;color:#555">沪DN3990</div><div class="a" style="left:8.0px;top:71.4px;width:2.0px;height:2.0px;border:.7px solid #7ab0f5;border-radius:50%"></div><div class="a" style="left:13.0px;top:69.4px;white-space:nowrap;font-size:4.6px;line-height:6px;color:#222;font-weight:700">美年中心附近</div><div class="a" style="left:8.0px;top:81.4px;width:2.0px;height:2.0px;border:.7px solid #f08a7a;border-radius:50%"></div><div class="a" style="left:13.0px;top:79.4px;white-space:nowrap;font-size:4.6px;line-height:6px;color:#222;font-weight:700">天府广场</div><div class="a" style="left:7.3px;top:91.4px;width:3.4px;height:3.4px;border:.7px solid #bbb;border-radius:50%"></div><div class="a" style="left:13.0px;top:89.7px;width:10.0px;height:6.0px;background:#5cc96e;border-radius:.8px"></div><div class="a" style="left:14.3px;top:89.9px;white-space:nowrap;font-size:3.8px;line-height:6px;color:#fff">行人</div><div class="a" style="left:26.0px;top:89.7px;white-space:nowrap;font-size:4.6px;line-height:6px;color:#777">张富强 <span style="color:#4a90f0">180****3900</span></div><div class="a" style="left:7.3px;top:117.9px;width:3.4px;height:3.4px;border:.7px solid #aaa;border-radius:50%"></div><div class="a" style="left:13.0px;top:116.6px;white-space:nowrap;font-size:5px;line-height:6px;color:#4a94f5">11-25 11:00</div><div class="a" style="left:7.3px;top:127.9px;width:3.4px;height:3.4px;background:#f7c75a;border-radius:50%;opacity:.85"></div><div class="a" style="left:13.0px;top:126.6px;white-space:nowrap;font-size:4.6px;line-height:6px;color:#555">川A3R400</div><div class="a" style="left:8.0px;top:137.9px;width:2.0px;height:2.0px;border:.7px solid #7ab0f5;border-radius:50%"></div><div class="a" style="left:13.0px;top:135.9px;white-space:nowrap;font-size:4.6px;line-height:6px;color:#222;font-weight:700">花样年·美年广场2期附近</div><div class="a" style="left:8.0px;top:147.9px;width:2.0px;height:2.0px;border:.7px solid #f08a7a;border-radius:50%"></div><div class="a" style="left:13.0px;top:145.9px;white-space:nowrap;font-size:4.6px;line-height:6px;color:#222;font-weight:700">美年中心附近</div><div class="a" style="left:7.3px;top:157.9px;width:3.4px;height:3.4px;border:.7px solid #bbb;border-radius:50%"></div><div class="a" style="left:13.0px;top:156.2px;width:10.0px;height:6.0px;background:#5cc96e;border-radius:.8px"></div><div class="a" style="left:14.3px;top:156.4px;white-space:nowrap;font-size:3.8px;line-height:6px;color:#fff">行人</div><div class="a" style="left:26.0px;top:156.2px;white-space:nowrap;font-size:4.6px;line-height:6px;color:#777">余昱18369 <span style="color:#4a90f0">184****2125</span></div><div class="a" style="left:7.3px;top:184.9px;width:3.4px;height:3.4px;border:.7px solid #aaa;border-radius:50%"></div><div class="a" style="left:13.0px;top:183.6px;white-space:nowrap;font-size:5px;line-height:6px;color:#4a94f5">11-05 14:29前 包2天</div><div class="a" style="left:7.3px;top:194.9px;width:3.4px;height:3.4px;background:#f7c75a;border-radius:50%;opacity:.85"></div><div class="a" style="left:13.0px;top:193.6px;white-space:nowrap;font-size:4.6px;line-height:6px;color:#555">京TUN445</div><div class="a" style="left:8.0px;top:204.9px;width:2.0px;height:2.0px;border:.7px solid #7ab0f5;border-radius:50%"></div><div class="a" style="left:13.0px;top:202.9px;white-space:nowrap;font-size:4.6px;line-height:6px;color:#222;font-weight:700">天府三街-地铁站</div><div class="a" style="left:8.0px;top:214.9px;width:2.0px;height:2.0px;border:.7px solid #f08a7a;border-radius:50%"></div><div class="a" style="left:13.0px;top:212.9px;white-space:nowrap;font-size:4.6px;line-height:6px;color:#222;font-weight:700">天府二街-道路</div><div class="a" style="left:0.0px;top:219.6px;width:110.0px;height:20.0px;background:#fff"></div><div class="a" style="left:0.0px;top:219.1px;width:110.0px;height:0.5px;background:#eee"></div><div class="a" style="left:16.5px;top:222.1px;width:4.5px;height:5.5px;background:#3a8ef5;border-radius:.8px"></div><div class="a" style="left:16.5px;top:229.6px;width:4.5px;height:1.0px;background:#9cc4f8"></div><div class="a" style="left:53.0px;top:223.1px;width:6.5px;height:4.5px;border:.8px solid #bbb;border-radius:2px 2px 0 0"></div><div class="a" style="left:91.0px;top:222.1px;width:3.5px;height:3.5px;border:.8px solid #bbb;border-radius:50%"></div><div class="a" style="left:90.0px;top:226.1px;width:5.5px;height:2.5px;border:.8px solid #bbb;border-radius:2px 2px 0 0"></div><div class="a" style="left:37.0px;top:235.6px;width:36.0px;height:2.0px;background:#3a3a3a;border-radius:1px"></div><div class="notch" style="left:25px;width:60px"></div><div class="a" style="left:47.0px;top:3.5px;width:12px;height:1.2px;background:#333;border-radius:1px"></div><div class="a" style="left:63.0px;top:3px;width:2.4px;height:2.4px;background:#1f3550;border-radius:50%"></div><div class="t9" style="left:10px">9:41</div><div class="a" style="left:86px;top:3.5px;width:4px;height:2.5px;background:#333;clip-path:polygon(0 100%,100% 0,100% 100%)"></div><div class="a" style="left:92px;top:3px;width:4px;height:3px;background:#333;clip-path:polygon(0 0,100% 0,50% 100%)"></div><div class="a" style="left:98px;top:3.3px;width:6px;height:2.6px;background:#333;border-radius:.8px"></div></div>
<div class="a" style="left:1083px;top:305px;width:1.5px;height:8px;background:#777"></div>
<div class="a" style="left:1083px;top:327px;width:1.5px;height:10px;background:#777"></div>
<div class="a" style="left:1223px;top:308px;width:1.5px;height:10px;background:#777"></div>
<div class="a" style="left:1358px;top:308px;width:1.5px;height:10px;background:#777"></div>
<div class="lab" style="left:980.2px;top:507px;width:80.6px;height:31.8px;font-size:18px;line-height:34px">业务端</div>
<div class="lab" style="left:1120px;top:509px;width:78.3px;height:30.5px;font-size:18px;line-height:34px">客户端</div>
<div class="lab" style="left:1258px;top:507.5px;width:76.5px;height:30px;font-size:18px;line-height:32px">司机端</div>
<svg class="a" style="left:0;top:0" width="1920" height="1080" viewBox="0 0 1920 1080"><defs><linearGradient id="cfront" x1="0" x2="1" y1="0" y2="1"><stop offset="0" stop-color="#bcd6fb"/><stop offset="1" stop-color="#c4dcfb"/></linearGradient><linearGradient id="cside" x1="0" x2="1"><stop offset="0" stop-color="#b3cdf5"/><stop offset=".6" stop-color="#a4c0f0"/><stop offset="1" stop-color="#b8d0f6"/></linearGradient><filter id="blur1"><feGaussianBlur stdDeviation="1.2"/></filter></defs><path d="M1578,287 C1569,286 1564,274 1564,260 C1564,245 1574,234 1588,232 C1591,231.5 1593,230 1594,227 C1598,208 1608,194 1625,194 C1641,194 1650,208 1654,226 C1655,231 1657,234 1662,234.5 C1676,236 1685,248 1685,263 C1685,279 1674,290 1662,290 Z" transform="translate(-6,1)" fill="none" stroke="#e6f0ff" stroke-width="3" filter="url(#blur1)"/><path d="M1578,287 C1569,286 1564,274 1564,260 C1564,245 1574,234 1588,232 C1591,231.5 1593,230 1594,227 C1598,208 1608,194 1625,194 C1641,194 1650,208 1654,226 C1655,231 1657,234 1662,234.5 C1676,236 1685,248 1685,263 C1685,279 1674,290 1662,290 Z" transform="translate(0.00,-0.00) scale(1,1.0000)" fill="url(#cside)"/><path d="M1578,287 C1569,286 1564,274 1564,260 C1564,245 1574,234 1588,232 C1591,231.5 1593,230 1594,227 C1598,208 1608,194 1625,194 C1641,194 1650,208 1654,226 C1655,231 1657,234 1662,234.5 C1676,236 1685,248 1685,263 C1685,279 1674,290 1662,290 Z" transform="translate(1.00,-0.65) scale(1,1.0024)" fill="url(#cside)"/><path d="M1578,287 C1569,286 1564,274 1564,260 C1564,245 1574,234 1588,232 C1591,231.5 1593,230 1594,227 C1598,208 1608,194 1625,194 C1641,194 1650,208 1654,226 C1655,231 1657,234 1662,234.5 C1676,236 1685,248 1685,263 C1685,279 1674,290 1662,290 Z" transform="translate(2.00,-1.30) scale(1,1.0048)" fill="url(#cside)"/><path d="M1578,287 C1569,286 1564,274 1564,260 C1564,245 1574,234 1588,232 C1591,231.5 1593,230 1594,227 C1598,208 1608,194 1625,194 C1641,194 1650,208 1654,226 C1655,231 1657,234 1662,234.5 C1676,236 1685,248 1685,263 C1685,279 1674,290 1662,290 Z" transform="translate(3.00,-1.96) scale(1,1.0071)" fill="url(#cside)"/><path d="M1578,287 C1569,286 1564,274 1564,260 C1564,245 1574,234 1588,232 C1591,231.5 1593,230 1594,227 C1598,208 1608,194 1625,194 C1641,194 1650,208 1654,226 C1655,231 1657,234 1662,234.5 C1676,236 1685,248 1685,263 C1685,279 1674,290 1662,290 Z" transform="translate(4.00,-2.61) scale(1,1.0095)" fill="url(#cside)"/><path d="M1578,287 C1569,286 1564,274 1564,260 C1564,245 1574,234 1588,232 C1591,231.5 1593,230 1594,227 C1598,208 1608,194 1625,194 C1641,194 1650,208 1654,226 C1655,231 1657,234 1662,234.5 C1676,236 1685,248 1685,263 C1685,279 1674,290 1662,290 Z" transform="translate(5.00,-3.26) scale(1,1.0119)" fill="url(#cside)"/><path d="M1578,287 C1569,286 1564,274 1564,260 C1564,245 1574,234 1588,232 C1591,231.5 1593,230 1594,227 C1598,208 1608,194 1625,194 C1641,194 1650,208 1654,226 C1655,231 1657,234 1662,234.5 C1676,236 1685,248 1685,263 C1685,279 1674,290 1662,290 Z" transform="translate(6.00,-3.91) scale(1,1.0143)" fill="url(#cside)"/><path d="M1578,287 C1569,286 1564,274 1564,260 C1564,245 1574,234 1588,232 C1591,231.5 1593,230 1594,227 C1598,208 1608,194 1625,194 C1641,194 1650,208 1654,226 C1655,231 1657,234 1662,234.5 C1676,236 1685,248 1685,263 C1685,279 1674,290 1662,290 Z" transform="translate(7.00,-4.57) scale(1,1.0167)" fill="url(#cside)"/><path d="M1578,287 C1569,286 1564,274 1564,260 C1564,245 1574,234 1588,232 C1591,231.5 1593,230 1594,227 C1598,208 1608,194 1625,194 C1641,194 1650,208 1654,226 C1655,231 1657,234 1662,234.5 C1676,236 1685,248 1685,263 C1685,279 1674,290 1662,290 Z" transform="translate(8.00,-5.22) scale(1,1.0190)" fill="url(#cside)"/><path d="M1578,287 C1569,286 1564,274 1564,260 C1564,245 1574,234 1588,232 C1591,231.5 1593,230 1594,227 C1598,208 1608,194 1625,194 C1641,194 1650,208 1654,226 C1655,231 1657,234 1662,234.5 C1676,236 1685,248 1685,263 C1685,279 1674,290 1662,290 Z" transform="translate(9.00,-5.87) scale(1,1.0214)" fill="url(#cside)"/><path d="M1578,287 C1569,286 1564,274 1564,260 C1564,245 1574,234 1588,232 C1591,231.5 1593,230 1594,227 C1598,208 1608,194 1625,194 C1641,194 1650,208 1654,226 C1655,231 1657,234 1662,234.5 C1676,236 1685,248 1685,263 C1685,279 1674,290 1662,290 Z" transform="translate(10.00,-6.52) scale(1,1.0238)" fill="url(#cside)"/><path d="M1578,287 C1569,286 1564,274 1564,260 C1564,245 1574,234 1588,232 C1591,231.5 1593,230 1594,227 C1598,208 1608,194 1625,194 C1641,194 1650,208 1654,226 C1655,231 1657,234 1662,234.5 C1676,236 1685,248 1685,263 C1685,279 1674,290 1662,290 Z" transform="translate(11.00,-7.18) scale(1,1.0262)" fill="url(#cside)"/><path d="M1578,287 C1569,286 1564,274 1564,260 C1564,245 1574,234 1588,232 C1591,231.5 1593,230 1594,227 C1598,208 1608,194 1625,194 C1641,194 1650,208 1654,226 C1655,231 1657,234 1662,234.5 C1676,236 1685,248 1685,263 C1685,279 1674,290 1662,290 Z" transform="translate(12.00,-7.83) scale(1,1.0286)" fill="url(#cside)"/><path d="M1578,287 C1569,286 1564,274 1564,260 C1564,245 1574,234 1588,232 C1591,231.5 1593,230 1594,227 C1598,208 1608,194 1625,194 C1641,194 1650,208 1654,226 C1655,231 1657,234 1662,234.5 C1676,236 1685,248 1685,263 C1685,279 1674,290 1662,290 Z" transform="translate(13.00,-8.48) scale(1,1.0310)" fill="url(#cside)"/><path d="M1578,287 C1569,286 1564,274 1564,260 C1564,245 1574,234 1588,232 C1591,231.5 1593,230 1594,227 C1598,208 1608,194 1625,194 C1641,194 1650,208 1654,226 C1655,231 1657,234 1662,234.5 C1676,236 1685,248 1685,263 C1685,279 1674,290 1662,290 Z" transform="translate(14.00,-9.13) scale(1,1.0333)" fill="url(#cside)"/><path d="M1578,287 C1569,286 1564,274 1564,260 C1564,245 1574,234 1588,232 C1591,231.5 1593,230 1594,227 C1598,208 1608,194 1625,194 C1641,194 1650,208 1654,226 C1655,231 1657,234 1662,234.5 C1676,236 1685,248 1685,263 C1685,279 1674,290 1662,290 Z" transform="translate(15.00,-9.79) scale(1,1.0357)" fill="url(#cside)"/><path d="M1578,287 C1569,286 1564,274 1564,260 C1564,245 1574,234 1588,232 C1591,231.5 1593,230 1594,227 C1598,208 1608,194 1625,194 C1641,194 1650,208 1654,226 C1655,231 1657,234 1662,234.5 C1676,236 1685,248 1685,263 C1685,279 1674,290 1662,290 Z" transform="translate(16.00,-10.44) scale(1,1.0381)" fill="url(#cside)"/><path d="M1578,287 C1569,286 1564,274 1564,260 C1564,245 1574,234 1588,232 C1591,231.5 1593,230 1594,227 C1598,208 1608,194 1625,194 C1641,194 1650,208 1654,226 C1655,231 1657,234 1662,234.5 C1676,236 1685,248 1685,263 C1685,279 1674,290 1662,290 Z" transform="translate(17.00,-11.09) scale(1,1.0405)" fill="url(#cside)"/><path d="M1578,287 C1569,286 1564,274 1564,260 C1564,245 1574,234 1588,232 C1591,231.5 1593,230 1594,227 C1598,208 1608,194 1625,194 C1641,194 1650,208 1654,226 C1655,231 1657,234 1662,234.5 C1676,236 1685,248 1685,263 C1685,279 1674,290 1662,290 Z" transform="translate(18.00,-11.74) scale(1,1.0429)" fill="url(#cside)"/><path d="M1578,287 C1569,286 1564,274 1564,260 C1564,245 1574,234 1588,232 C1591,231.5 1593,230 1594,227 C1598,208 1608,194 1625,194 C1641,194 1650,208 1654,226 C1655,231 1657,234 1662,234.5 C1676,236 1685,248 1685,263 C1685,279 1674,290 1662,290 Z" transform="translate(19.00,-12.40) scale(1,1.0452)" fill="url(#cside)"/><path d="M1578,287 C1569,286 1564,274 1564,260 C1564,245 1574,234 1588,232 C1591,231.5 1593,230 1594,227 C1598,208 1608,194 1625,194 C1641,194 1650,208 1654,226 C1655,231 1657,234 1662,234.5 C1676,236 1685,248 1685,263 C1685,279 1674,290 1662,290 Z" transform="translate(20.00,-13.05) scale(1,1.0476)" fill="url(#cside)"/><path d="M1578,287 C1569,286 1564,274 1564,260 C1564,245 1574,234 1588,232 C1591,231.5 1593,230 1594,227 C1598,208 1608,194 1625,194 C1641,194 1650,208 1654,226 C1655,231 1657,234 1662,234.5 C1676,236 1685,248 1685,263 C1685,279 1674,290 1662,290 Z" transform="translate(21.00,-13.70) scale(1,1.0500)" fill="url(#cside)"/><path d="M1578,287 C1569,286 1564,274 1564,260 C1564,245 1574,234 1588,232 C1591,231.5 1593,230 1594,227 C1598,208 1608,194 1625,194 C1641,194 1650,208 1654,226 C1655,231 1657,234 1662,234.5 C1676,236 1685,248 1685,263 C1685,279 1674,290 1662,290 Z" transform="translate(-4,0.5)" fill="#d3e3fc" opacity=".95"/><path d="M1578,287 C1569,286 1564,274 1564,260 C1564,245 1574,234 1588,232 C1591,231.5 1593,230 1594,227 C1598,208 1608,194 1625,194 C1641,194 1650,208 1654,226 C1655,231 1657,234 1662,234.5 C1676,236 1685,248 1685,263 C1685,279 1674,290 1662,290 Z" fill="url(#cfront)" stroke="#ffffff" stroke-width="2.4"/></svg>
<div class="box" style="left:138px;background:linear-gradient(90deg,#1b63e2,#74a2ed)"></div>
<div class="box" style="left:588px;background:linear-gradient(90deg,#5ab3fc,#a0d2fd)"></div>
<div class="box" style="left:1031.5px;background:linear-gradient(90deg,#edc22b,#f2db80)"></div>
<div class="box" style="left:1469px;background:linear-gradient(90deg,#c7c7c7,#dfdfdf)"></div>
<div class="vline" style="left:284px;height:96px"></div>
<div class="vline" style="left:728px;height:89px;width:3px"></div>
<div class="vline" style="left:1169px;height:92px"></div>
<div class="vline" style="left:1613px;height:89px;width:3px"></div>
<div class="ct" style="left:89px">管理规范</div>
<div class="ct" style="left:536px">车辆监管</div>
<div class="ct" style="left:977.5px">数据同步</div>
<div class="ct" style="left:1427.5px">权限管理</div>
<div class="cb" style="left:68.5px">费用数据层层审批全面透<br>明，杜绝私用谎报，使得<br>费用控制合理</div>
<div class="cb" style="left:524px;top:864px">车辆轨迹实时查看，电子<br>围栏防止车辆丢失，车务<br>信息提前预警</div>
<div class="cb" style="left:965px">后台管理端、小程序、<br>APP消息实时推送，再也<br>不用打电话询问了</div>
<div class="cb" style="left:1415px">组织、部门、岗位层级分<br>明，功能模块分权操作轻<br>松实现数据安全</div>
</body></html>
